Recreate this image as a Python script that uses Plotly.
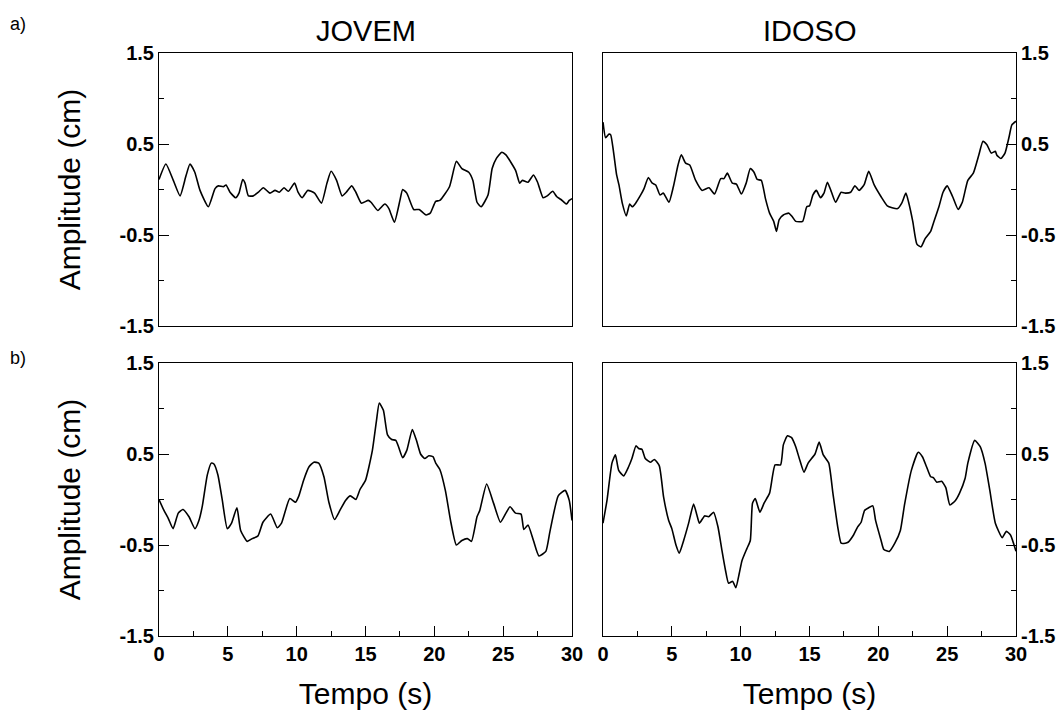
import plotly.graph_objects as go

# ---------------- data ----------------
t_jovem_a = [0, 0.5, 1.04, 1.53, 1.96, 2.25, 2.6, 2.98, 3.58, 4.07, 4.31, 4.67, 4.87, 5.16, 5.57, 5.81,
             6.08, 6.25, 6.49, 6.85, 7.22, 7.58, 8.06, 8.43, 8.74, 9.08, 9.39, 9.85, 10.1, 10.4, 10.8,
             11.3, 11.8, 12.2, 12.5, 12.9, 13.3, 13.6, 14.0, 14.3, 14.7, 15.2, 15.4, 15.9, 16.4, 16.7,
             17.1, 17.5, 17.7, 18.0, 18.5, 18.9, 19.4, 19.7, 20.1, 20.4, 21.1, 21.6, 22.0, 22.5, 22.8,
             23.1, 23.4, 23.9, 24.2, 24.5, 24.9, 25.2, 25.9, 26.2, 26.4, 26.8, 27.2, 27.5, 27.9, 28.2,
             28.6, 28.9, 29.2, 29.6, 29.8, 30.0]
a_jovem_a = [0.11, 0.28, 0.10, -0.07, 0.15, 0.28, 0.19, -0.01, -0.19, 0.01, 0.04, 0.03, 0.05, -0.03, -0.09, -0.04,
             0.11, 0.07, -0.07, -0.07, -0.03, 0.02, -0.04, -0.01, -0.03, 0.02, -0.02, 0.07, -0.03, -0.09, -0.01,
             -0.04, -0.15, 0.07, 0.20, 0.10, -0.07, -0.03, 0.04, -0.03, -0.15, -0.12, -0.14, -0.23, -0.16, -0.21,
             -0.36, -0.12, 0.00, -0.04, -0.22, -0.22, -0.28, -0.26, -0.13, -0.12, 0.03, 0.31, 0.23, 0.19, 0.10,
             -0.14, -0.19, -0.06, 0.23, 0.34, 0.41, 0.38, 0.21, 0.07, 0.10, 0.08, 0.16, 0.08, -0.09, -0.07,
             -0.02, -0.08, -0.11, -0.16, -0.12, -0.10]

t_idoso_a = [0, 0.19, 0.44, 0.56, 0.75, 0.99, 1.16, 1.40, 1.69, 1.94, 2.13, 2.37, 2.74, 2.98, 3.29, 3.58,
             3.83, 4.14, 4.38, 4.79, 5.11, 5.45, 5.69, 6.0, 6.3, 6.73, 7.2, 7.7, 8.1, 8.55, 8.79, 9.03,
             9.39, 9.69, 10.05, 10.4, 10.7, 10.97, 11.2, 11.5, 11.8, 12.1, 12.4, 12.6, 12.8, 13.1, 13.5,
             13.75, 14.0, 14.5, 14.8, 15.0, 15.25, 15.5, 15.8, 16.05, 16.3, 16.6, 16.9, 17.3, 17.6, 17.99,
             18.3, 18.6, 18.96, 19.3, 19.7, 20.2, 20.65, 21.0, 21.4, 21.7, 22.0, 22.2, 22.5, 22.8, 23.1,
             23.4, 23.8, 24.0, 24.4, 24.7, 25.0, 25.4, 25.8, 26.1, 26.5, 26.9, 27.3, 27.6, 27.9, 28.2,
             28.5, 28.6, 28.9, 29.2, 29.5, 29.7, 30.0]
a_idoso_a = [0.74, 0.57, 0.61, 0.60, 0.43, 0.16, 0.05, -0.15, -0.29, -0.16, -0.19, -0.15, -0.06, 0.01, 0.13, 0.07,
             0.05, -0.06, -0.04, -0.14, 0.03, 0.27, 0.38, 0.29, 0.27, 0.10, -0.01, 0.02, -0.05, 0.12, 0.12, 0.18,
             0.07, 0.06, -0.05, 0.07, 0.23, 0.19, 0.11, 0.10, -0.10, -0.26, -0.35, -0.46, -0.33, -0.28, -0.26,
             -0.30, -0.35, -0.35, -0.19, -0.18, -0.06, -0.01, -0.09, -0.04, 0.08, -0.03, -0.14, -0.03, -0.04, -0.03,
             0.04, -0.01, 0.05, 0.20, 0.05, -0.08, -0.18, -0.20, -0.21, -0.15, -0.04, -0.14, -0.35, -0.60, -0.63,
             -0.54, -0.46, -0.37, -0.19, -0.03, 0.04, -0.08, -0.22, -0.14, 0.10, 0.18, 0.38, 0.53, 0.49, 0.40,
             0.42, 0.38, 0.34, 0.40, 0.58, 0.71, 0.75]

t_jovem_b = [0, 0.36, 0.68, 1.02, 1.40, 1.74, 2.18, 2.61, 2.90, 3.15, 3.51, 3.80, 3.99, 4.28, 4.60, 4.96,
             5.27, 5.66, 5.93, 6.41, 6.77, 7.19, 7.55, 8.11, 8.59, 8.9, 9.5, 9.92, 10.16, 10.5, 10.9, 11.25,
             11.6, 11.98, 12.34, 12.75, 13.14, 13.55, 13.9, 14.3, 14.6, 15.0, 15.5, 15.8, 16.0, 16.3, 16.6,
             16.9, 17.2, 17.4, 17.7, 18.0, 18.4, 18.7, 19.0, 19.3, 19.6, 19.9, 20.1, 20.4, 20.8, 21.2, 21.6,
             22.0, 22.4, 22.7, 23.1, 23.3, 23.8, 24.3, 24.8, 25.2, 25.5, 25.9, 26.3, 26.5, 26.8, 27.2, 27.6,
             28.1, 28.4, 29.0, 29.5, 29.8, 30.0]
a_jovem_b = [0.0, -0.12, -0.21, -0.32, -0.15, -0.11, -0.19, -0.32, -0.23, -0.07, 0.27, 0.40, 0.39, 0.27, -0.01, -0.32,
             -0.26, -0.09, -0.34, -0.46, -0.43, -0.40, -0.25, -0.16, -0.31, -0.26, 0.01, -0.03, 0.04, 0.21, 0.36, 0.41,
             0.40, 0.25, -0.03, -0.22, -0.12, -0.01, 0.04, 0.00, 0.11, 0.21, 0.54, 0.87, 1.06, 0.98, 0.71,
             0.66, 0.65, 0.58, 0.46, 0.54, 0.77, 0.65, 0.50, 0.45, 0.48, 0.47, 0.40, 0.33, 0.10, -0.25, -0.50,
             -0.45, -0.43, -0.46, -0.19, -0.12, 0.17, -0.04, -0.25, -0.15, -0.08, -0.15, -0.16, -0.33, -0.28, -0.45, -0.62,
             -0.57, -0.35, 0.04, 0.10, -0.01, -0.23]

t_idoso_b = [0, 0.29, 0.65, 0.9, 1.14, 1.5, 1.86, 2.1, 2.4, 2.59, 2.83, 3.07, 3.44, 3.73, 4.09, 4.4,
             4.77, 5.0, 5.3, 5.54, 5.86, 6.22, 6.58, 6.82, 7.0, 7.38, 7.67, 8.03, 8.35, 8.64, 8.9, 9.12,
             9.42, 9.65, 9.9, 10.1, 10.45, 10.7, 10.86, 11.06, 11.4, 11.7, 12.1, 12.5, 12.9, 13.1, 13.4,
             13.7, 14.0, 14.3, 14.6, 14.9, 15.4, 15.7, 16.0, 16.4, 16.7, 17.05, 17.3, 17.6, 17.8, 18.2,
             18.5, 18.75, 19.0, 19.3, 19.6, 19.8, 20.2, 20.4, 20.8, 21.2, 21.6, 21.9, 22.4, 22.9, 23.2,
             23.5, 23.8, 24.0, 24.25, 24.6, 24.9, 25.2, 25.6, 25.9, 26.3, 26.5, 27.0, 27.4, 27.75, 28.1,
             28.5, 29.0, 29.3, 29.6, 30.0]
a_idoso_b = [-0.26, -0.01, 0.40, 0.49, 0.32, 0.26, 0.36, 0.45, 0.59, 0.56, 0.55, 0.45, 0.41, 0.44, 0.37, 0.03,
             -0.23, -0.32, -0.50, -0.59, -0.45, -0.26, -0.05, -0.17, -0.26, -0.18, -0.19, -0.14, -0.30, -0.56, -0.78, -0.92,
             -0.90, -0.97, -0.81, -0.67, -0.54, -0.45, -0.04, 0.01, -0.14, -0.04, 0.07, 0.38, 0.38, 0.60, 0.70,
             0.68, 0.58, 0.43, 0.30, 0.40, 0.50, 0.63, 0.49, 0.40, 0.07, -0.30, -0.48, -0.48, -0.47, -0.39,
             -0.30, -0.25, -0.12, -0.09, -0.07, -0.23, -0.45, -0.55, -0.57, -0.48, -0.34, -0.06, 0.32, 0.52, 0.47,
             0.36, 0.25, 0.24, 0.19, 0.20, 0.13, -0.06, -0.01, 0.07, 0.23, 0.40, 0.65, 0.58, 0.40, 0.10,
             -0.26, -0.42, -0.35, -0.39, -0.57]

col_titles = ["JOVEM", "IDOSO"]
row_labels = ["a)", "b)"]
y_tickvals = [-1.5, -0.5, 0.5, 1.5]
y_ticktext = ["-1.5", "-0.5", "0.5", "1.5"]
y_minor = [-1.0, 0.0, 1.0]
x_tickvals = [0, 5, 10, 15, 20, 25, 30]
x_minor = [2.5, 7.5, 12.5, 17.5, 22.5, 27.5]

# ---------------- figure ----------------
W, H = 1063, 713
FONT = "Liberation Sans, Arial, sans-serif"

def fx(p):
    return p / W

def fy(p):
    return 1 - p / H

xdom_left = [fx(159), fx(572)]
xdom_right = [fx(603), fx(1016)]
ydom_top = [fy(326), fy(53)]
ydom_bot = [fy(636), fy(363)]

fig = go.Figure()
series = [(t_jovem_a, a_jovem_a), (t_idoso_a, a_idoso_a), (t_jovem_b, a_jovem_b), (t_idoso_b, a_idoso_b)]
for i, (t, a) in enumerate(series):
    sfx = "" if i == 0 else str(i + 1)
    fig.add_trace(go.Scatter(x=t, y=a, mode="lines", xaxis="x" + sfx, yaxis="y" + sfx,
                             line=dict(color="black", width=1.6, shape="spline", smoothing=0.5),
                             showlegend=False, hoverinfo="skip"))

layout = dict(template="none", width=W, height=H, margin=dict(l=0, r=0, t=0, b=0, pad=0),
              paper_bgcolor="white", plot_bgcolor="white",
              font=dict(family=FONT, color="black"))

xdoms = [xdom_left, xdom_right, xdom_left, xdom_right]
ydoms = [ydom_top, ydom_top, ydom_bot, ydom_bot]
for i in range(4):
    sfx = "" if i == 0 else str(i + 1)
    bottom = i >= 2
    right = i % 2 == 1
    xa = dict(domain=xdoms[i], anchor="y" + sfx, range=[0, 30], showgrid=False, zeroline=False,
              automargin=False,
              showline=True, linecolor="black", linewidth=1, mirror=True)
    if bottom:
        xa.update(tickmode="array", tickvals=x_tickvals, ticks="inside", ticklen=10, tickcolor="black",
                  tickwidth=1, tickfont=dict(size=20, weight="bold", family=FONT),
                  minor=dict(tickmode="array", tickvals=x_minor, ticks="inside", ticklen=5,
                             tickcolor="black", tickwidth=1),
                  title=dict(text="Tempo (s)", font=dict(size=30, family=FONT), standoff=18))
    else:
        xa.update(showticklabels=False, ticks="")
    ya = dict(domain=ydoms[i], anchor="x" + sfx, range=[-1.5, 1.5], showgrid=False, zeroline=False,
              automargin=False,
              showline=True, linecolor="black", linewidth=1, mirror=True,
              side="right" if right else "left",
              tickmode="array", tickvals=y_tickvals, ticktext=y_ticktext,
              ticks="inside", ticklen=10, tickcolor="black", tickwidth=1,
              tickfont=dict(size=20, weight="bold", family=FONT),
              minor=dict(tickmode="array", tickvals=y_minor, ticks="inside", ticklen=5,
                         tickcolor="black", tickwidth=1))
    if not right:
        ya["title"] = dict(text="Amplitude (cm)", font=dict(size=30, family=FONT), standoff=30)
    layout["xaxis" + sfx] = xa
    layout["yaxis" + sfx] = ya

fig.update_layout(**layout)

annotations = [
    dict(text=col_titles[0], x=(xdom_left[0] + xdom_left[1]) / 2, y=fy(31), xref="paper", yref="paper",
         showarrow=False, font=dict(size=29, family=FONT), xanchor="center", yanchor="middle"),
    dict(text=col_titles[1], x=(xdom_right[0] + xdom_right[1]) / 2, y=fy(31), xref="paper", yref="paper",
         showarrow=False, font=dict(size=29, family=FONT), xanchor="center", yanchor="middle"),
    dict(text=row_labels[0], x=fx(8), y=fy(24), xref="paper", yref="paper", showarrow=False,
         font=dict(size=18, family=FONT), xanchor="left", yanchor="middle"),
    dict(text=row_labels[1], x=fx(8), y=fy(358), xref="paper", yref="paper", showarrow=False,
         font=dict(size=18, family=FONT), xanchor="left", yanchor="middle"),
]
fig.update_layout(annotations=annotations)

fig.write_html("out.html")
